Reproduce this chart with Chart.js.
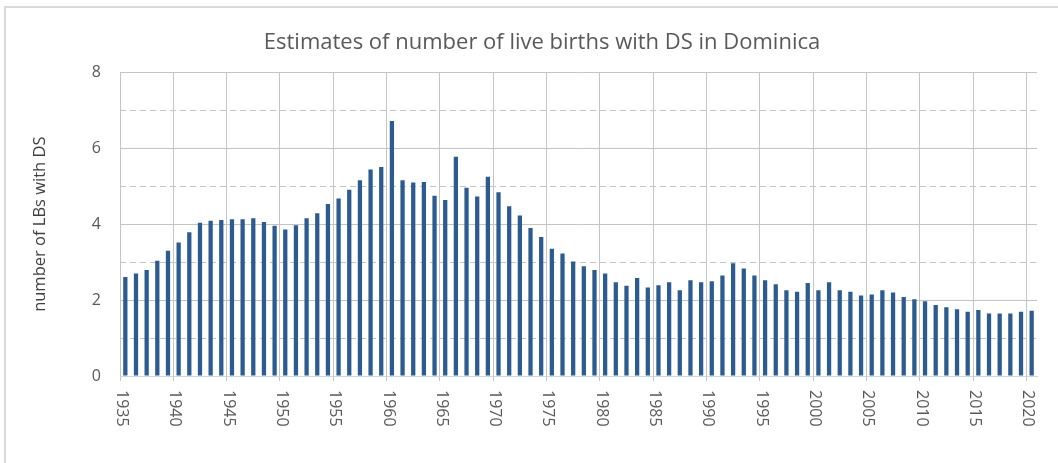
<!DOCTYPE html>
<html>
<head>
<meta charset="utf-8">
<script src="https://cdn.jsdelivr.net/npm/chart.js@4"></script>
<style>
  body { margin: 0; background: #fff; overflow: hidden; }
  #moldura {
    position: absolute; left: 4px; top: 6px; width: 1200px; height: 600px;
    border-left: 2px solid #DADADA; border-top: 2px solid #DADADA;
  }
  #grafico { position: absolute; left: 0; top: 0; }
</style>
</head>
<body>
<div id="moldura"></div>
<canvas id="grafico" width="1058" height="463"></canvas>
<script>
const anos = [
  1935, 1936, 1937, 1938, 1939, 1940, 1941, 1942, 1943, 1944,
  1945, 1946, 1947, 1948, 1949, 1950, 1951, 1952, 1953, 1954,
  1955, 1956, 1957, 1958, 1959, 1960, 1961, 1962, 1963, 1964,
  1965, 1966, 1967, 1968, 1969, 1970, 1971, 1972, 1973, 1974,
  1975, 1976, 1977, 1978, 1979, 1980, 1981, 1982, 1983, 1984,
  1985, 1986, 1987, 1988, 1989, 1990, 1991, 1992, 1993, 1994,
  1995, 1996, 1997, 1998, 1999, 2000, 2001, 2002, 2003, 2004,
  2005, 2006, 2007, 2008, 2009, 2010, 2011, 2012, 2013, 2014,
  2015, 2016, 2017, 2018, 2019, 2020
];

const nascimentosDS = [
  2.61, 2.70, 2.79, 3.04, 3.30, 3.52, 3.79, 4.04, 4.09, 4.11,
  4.13, 4.13, 4.16, 4.06, 3.96, 3.86, 3.97, 4.16, 4.29, 4.53,
  4.68, 4.91, 5.16, 5.44, 5.51, 6.72, 5.16, 5.10, 5.11, 4.75,
  4.64, 5.78, 4.96, 4.73, 5.25, 4.84, 4.47, 4.23, 3.90, 3.66,
  3.35, 3.23, 3.02, 2.89, 2.79, 2.70, 2.47, 2.38, 2.58, 2.33,
  2.39, 2.47, 2.26, 2.52, 2.47, 2.50, 2.65, 2.97, 2.83, 2.65,
  2.52, 2.42, 2.26, 2.22, 2.45, 2.26, 2.47, 2.26, 2.22, 2.12,
  2.15, 2.26, 2.20, 2.08, 2.02, 1.97, 1.87, 1.81, 1.76, 1.69,
  1.74, 1.65, 1.65, 1.65, 1.69, 1.72
];

const titulo = "Estimates of number of live births with DS in Dominica";
const tituloEixoY = "number of LBs with DS";
const fonte = "'Open Sans', 'Noto Sans', sans-serif";

// rotulos do eixo x escritos de cima para baixo (como no Excel)
const rotulosX = {
  id: "rotulosX",
  afterDraw(chart) {
    const eixo = chart.scales.x;
    const ctx = chart.ctx;
    ctx.save();
    ctx.font = "16px " + fonte;
    ctx.fillStyle = "#595959";
    ctx.textAlign = "left";
    ctx.textBaseline = "middle";
    for (let i = 0; i < anos.length; i++) {
      if (anos[i] % 5 != 0) continue;
      const x = eixo.getPixelForValue(i - 0.5) + 1.5;
      ctx.save();
      ctx.translate(x, chart.chartArea.bottom + 14);
      ctx.rotate(Math.PI / 2);
      ctx.fillText(String(anos[i]), 0, 0);
      ctx.restore();
    }
    ctx.restore();
  },
};

new Chart(document.getElementById("grafico").getContext("2d"), {
  type: "bar",
  data: {
    labels: anos,
    datasets: [
      {
        data: nascimentosDS,
        backgroundColor: "#2B5B8F",
        categoryPercentage: 1,
        barPercentage: 0.4,
      },
    ],
  },
  plugins: [rotulosX],
  options: {
    responsive: false,
    animation: false,
    layout: { padding: { top: 0, right: 21, bottom: 0, left: 47 } },
    plugins: {
      legend: { display: false },
      tooltip: { enabled: false },
      title: {
        display: true,
        text: titulo,
        color: "#595959",
        font: { family: fonte, size: 22, weight: "normal" },
        padding: { top: 30, bottom: 16 },
      },
    },
    scales: {
      x: {
        offset: true,
        afterFit: (s) => { s.height = 87; },
        ticks: { display: false, autoSkip: false },
        grid: {
          offset: true,
          tickLength: 5,
          color: (c) => (c.index % 5 == 0 ? "#C4C4C4" : "rgba(0,0,0,0)"),
          tickColor: (c) => (c.index % 5 == 0 ? "#C4C4C4" : "rgba(0,0,0,0)"),
        },
        border: { display: true, color: "#CCD5E0" },
      },
      y: {
        min: 0,
        max: 8,
        afterFit: (s) => { s.width = 73; },
        ticks: {
          stepSize: 1,
          padding: 19,
          color: "#595959",
          font: { family: fonte, size: 16 },
          callback: (v) => (v % 2 == 0 ? v : ""),
        },
        grid: {
          drawTicks: false,
          color: "#C4C4C4",
        },
        border: {
          display: false,
          dash: (c) => (c.tick && c.tick.value % 2 != 0 ? [6, 4] : []),
        },
        title: {
          display: true,
          text: tituloEixoY,
          color: "#404040",
          font: { family: fonte, size: 16.5 },
          padding: { top: -17, bottom: 0 },
        },
      },
    },
  },
});
</script>
</body>
</html>
